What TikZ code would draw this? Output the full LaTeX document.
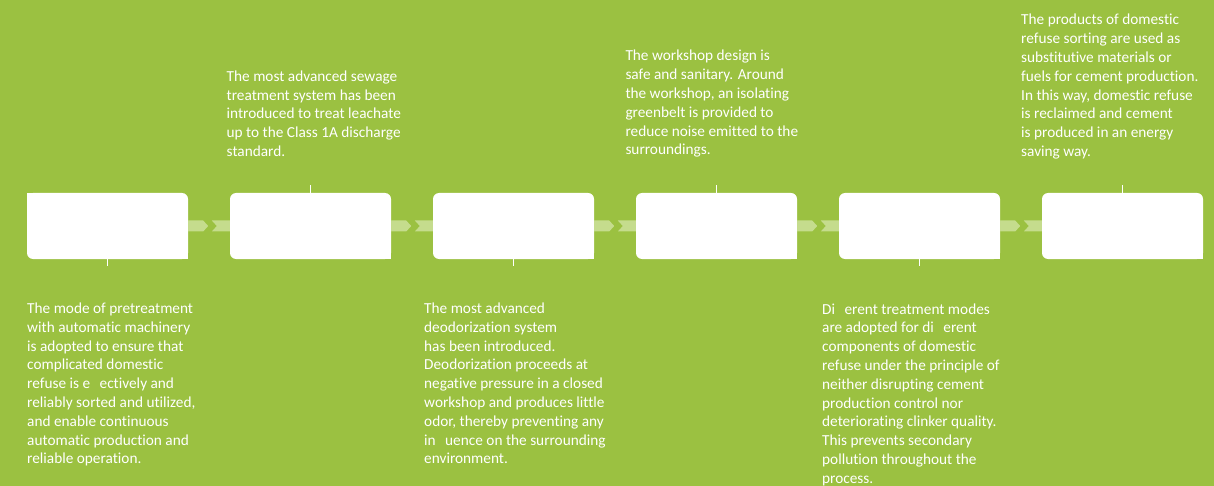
\documentclass[tikz,border=0pt]{standalone}
\usepackage{fontspec}
\setmainfont{Carlito}[Ligatures={NoCommon}]
\usepackage{tikz}

\definecolor{bggreen}{RGB}{155,193,65}
\definecolor{chevgreen}{RGB}{197,220,141}
\newcommand{\ffgap}{\hspace{0.62em}}

\begin{document}
\begin{tikzpicture}[x=1pt, y=-1pt,
        stepbox/.style={fill=white, rounded corners=6pt, minimum width=161pt, minimum height=66pt, inner sep=0pt},
        note/.style={anchor=north west, text=white, align=left, inner sep=0pt, font=\fontsize{15.3}{18.8}\selectfont},
        tick/.style={white, line width=1.5pt},
        chev/.style={fill=chevgreen}]
        \fill[bggreen] (0,0) rectangle (1214,486);
        \foreach \i in {1,...,6}{
            \node[stepbox] (b\i) at ({107.5+203*(\i-1)}, 226) {};
            \fill[white] (b\i.south east) rectangle ++(-8,-8);
        }
        \fill[white] (b1.north west) rectangle ++(8,8);
        \foreach \i/\j in {1/2, 2/3, 3/4, 4/5, 5/6}{
            \fill[chev] (b\i.east) ++(0,-5.5) -- ++(15,0) -- ++(5,5.5) -- ++(-5,5.5) -- ++(-15,0) -- cycle;
            \fill[chev] (b\j.west) ++(0,-5.5) -- ++(-18,0) -- ++(5,5.5) -- ++(-5,5.5) -- ++(18,0) -- cycle;
        }
        \foreach \i/\a/\d in {1/south/7, 2/north/-8, 3/south/7, 4/north/-8, 5/south/7, 6/north/-8}{
            \path (b\i.\a) ++(0,\d) coordinate (k\i);
            \draw[tick] (b\i.\a) -- (k\i);
        }
        \node[note] (t1) at (27,302.7) {The mode of pretreatment\\ with automatic machinery\\ is adopted to ensure that\\ complicated domestic\\ refuse is e\ffgap ectively and\\ reliably sorted and utilized,\\ and enable continuous\\ automatic production and\\ reliable operation.};
        \node[note] (t2) at (226.5,70.5) {The most advanced sewage\\ treatment system has been\\ introduced to treat leachate\\ up to the Class 1A discharge\\ standard.};
        \node[note] (t3) at (424,302.7) {The most advanced\\ deodorization system\\ has been introduced.\\ Deodorization proceeds at\\ negative pressure in a closed\\ workshop and produces little\\ odor, thereby preventing any\\ in\ffgap uence on the surrounding\\ environment.};
        \node[note] (t4) at (625.3,50) {The workshop design is\\ safe and sanitary. Around\\ the workshop, an isolating\\ greenbelt is provided to\\ reduce noise emitted to the\\ surroundings.};
        \node[note] (t5) at (822,303.3) {Di\ffgap erent treatment modes\\ are adopted for di\ffgap erent\\ components of domestic\\ refuse under the principle of\\ neither disrupting cement\\ production control nor\\ deteriorating clinker quality.\\ This prevents secondary\\ pollution throughout the\\ process.};
        \node[note] (t6) at (1021,14) {The products of domestic\\ refuse sorting are used as\\ substitutive materials or\\ fuels for cement production.\\ In this way, domestic refuse\\ is reclaimed and cement\\ is produced in an energy\\ saving way.};
    \end{tikzpicture}
\end{document}
